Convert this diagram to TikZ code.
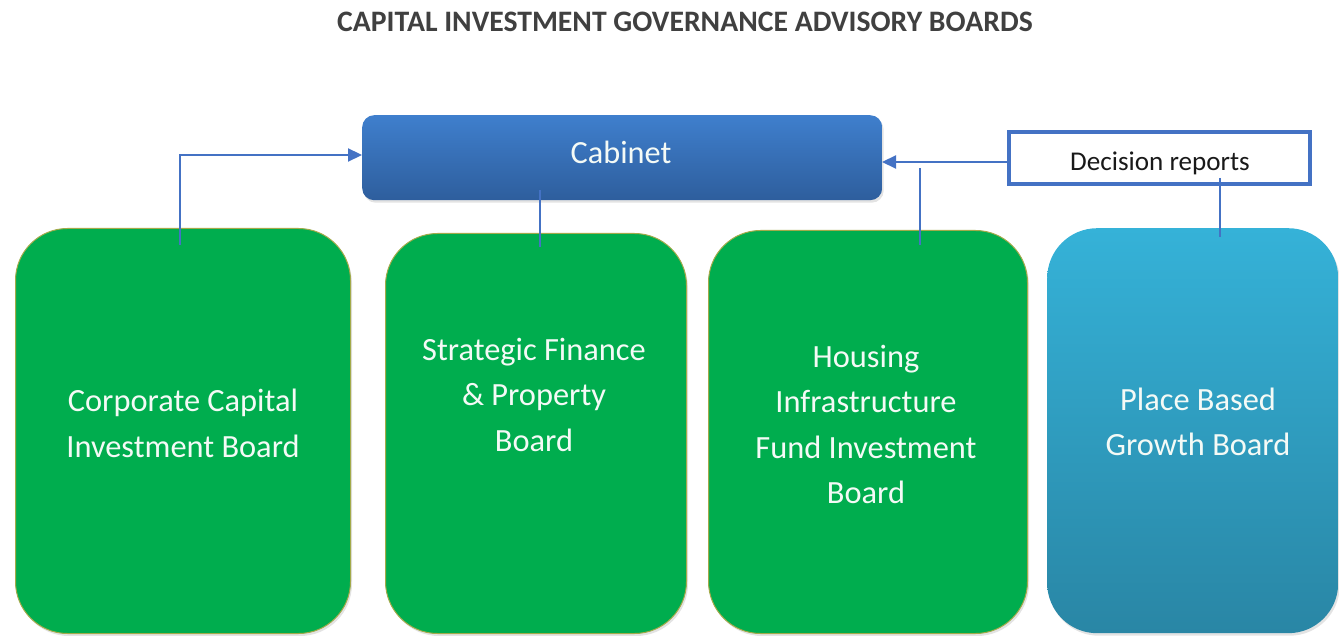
\documentclass[tikz,border=0pt]{standalone}
\usepackage{fontspec}
\setmainfont{Carlito}
\usetikzlibrary{arrows.meta,shadows,calc}
\definecolor{linkblue}{HTML}{4472C4}
\definecolor{boardgreen}{HTML}{00AD4E}
\definecolor{greenedge}{HTML}{A3AA4A}
\definecolor{cabtop}{HTML}{3F7FCD}
\definecolor{cabbot}{HTML}{2E5E9D}
\definecolor{pbtop}{HTML}{35B2D8}
\definecolor{pbbot}{HTML}{2986A5}
\definecolor{titlegray}{HTML}{404040}
\definecolor{textwhite}{HTML}{F4FAF6}
\begin{document}
\begin{tikzpicture}[x=1pt,y=-1pt,
  softshadow/.style={drop shadow={opacity=0.22,shadow xshift=1.5pt,shadow yshift=-2.5pt}},
  board/.style={rectangle, rounded corners=52pt, anchor=north west, inner sep=0pt,
    draw=greenedge, line width=1pt, fill=boardgreen, softshadow},
  pbboard/.style={rectangle, rounded corners=50pt, anchor=north west, inner sep=0pt,
    draw=none, top color=pbtop, bottom color=pbbot, softshadow},
  boardtext/.style={align=center, inner sep=0pt, text=textwhite,
    font=\fontsize{32.4}{45.5}\selectfont},
  cabinetbox/.style={rectangle, rounded corners=12pt, anchor=north west, inner sep=0pt,
    top color=cabtop, bottom color=cabbot, draw=none, softshadow},
  reportbox/.style={rectangle, draw=linkblue, line width=4pt, fill=white, inner sep=0pt},
  conn/.style={draw=linkblue, line width=2.2pt},
  arrowconn/.style={conn, -{Triangle[length=14pt,width=13pt]}}
]
\useasboundingbox (0,0) rectangle (1339,636);

% title
\node[font=\bfseries\fontsize{29.7}{34}\selectfont, text=titlegray] (title) at (685,22)
  {CAPITAL INVESTMENT GOVERNANCE ADVISORY BOARDS};

% boards
\node[board, minimum width=335pt, minimum height=405pt] (b1) at (15,228) {};
\node[board, minimum width=301pt, minimum height=400pt] (b2) at (385,233) {};
\node[board, minimum width=319pt, minimum height=403pt] (b3) at (708,230) {};
\node[pbboard, minimum width=291pt, minimum height=405pt] (b4) at (1047,228) {};

\node[boardtext] (t1) at (183,423.5) {Corporate Capital\\Investment Board};
\node[boardtext] (t2) at (534,394.5) {Strategic Finance\\\& Property\\Board};
\node[boardtext] (t3) at (866,424.5) {Housing\\Infrastructure\\Fund Investment\\Board};
\node[boardtext] (t4) at (1198,422) {Place Based\\Growth Board};

% cabinet
\node[cabinetbox, minimum width=520pt, minimum height=85pt] (cab) at (362,115) {};
\node[text=textwhite, font=\fontsize{32.3}{36}\selectfont, inner sep=0pt] (cabt) at (621,152) {Cabinet};

% decision reports
\node[reportbox, minimum width=301pt, minimum height=52pt] (dr) at (1159.5,158) {};
\node[font=\fontsize{27.1}{30}\selectfont, text=black!90, inner sep=0pt] (drt) at (1160,163) {Decision reports};

% connectors
\coordinate (c1) at (180,245);
\coordinate (c2a) at (540,190);
\coordinate (c2b) at (540,247);
\coordinate (c3a) at (920,245);
\coordinate (c3b) at (920,168);
\coordinate (c4a) at (1220,178);
\coordinate (c4b) at (1220,237);
\coordinate (cabin) at (362,155);
\coordinate (cabright) at (882,162);
\coordinate (drleft) at (1007,162);

\draw[arrowconn] (c1) |- (cabin);
\draw[conn] (c2a) -- (c2b);
\draw[arrowconn] (drleft) -- (cabright);
\draw[conn] (c3a) -- (c3b);
\draw[conn] (c4a) -- (c4b);
\end{tikzpicture}
\end{document}
